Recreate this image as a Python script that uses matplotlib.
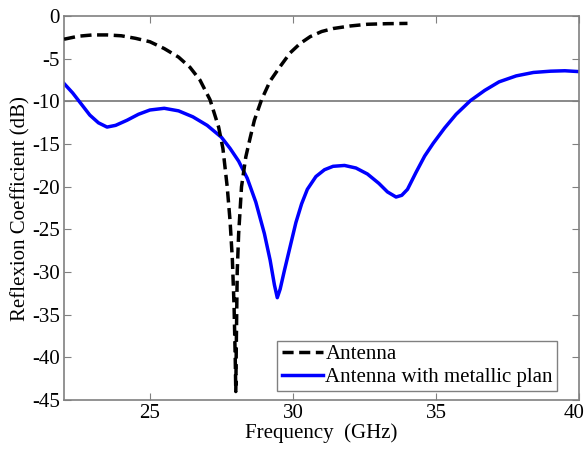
import matplotlib
matplotlib.use('Agg')
import matplotlib.pyplot as plt
import matplotlib.transforms as mtransforms

# Antenna alone (dashed)
freq_ant = [22.0, 22.5, 23.0, 23.5, 24.0, 24.5, 25.0, 25.5, 26.0, 26.4, 26.75,
            27.1, 27.4, 27.55, 27.7, 27.8, 27.88, 27.94, 27.98, 28.0, 28.02,
            28.05, 28.1, 28.2, 28.35, 28.5, 28.65, 28.9, 29.2, 29.55, 29.9,
            30.25, 30.6, 31.0, 31.4, 32.0, 32.6, 33.3, 34.0]
s11_ant = [-2.7, -2.35, -2.2, -2.2, -2.3, -2.6, -3.0, -3.8, -4.8, -6.0, -7.5,
           -9.8, -13.0, -15.5, -20.0, -24.0, -28.5, -34.0, -40.0, -44.0, -38.0,
           -30.0, -25.5, -20.0, -16.5, -14.3, -12.2, -9.8, -7.6, -5.9, -4.3,
           -3.2, -2.4, -1.8, -1.45, -1.15, -0.95, -0.88, -0.85]

# Antenna with metallic plan (solid blue)
freq_mp = [22.0, 22.3, 22.6, 22.9, 23.2, 23.5, 23.8, 24.2, 24.6, 25.0, 25.5,
           26.0, 26.5, 27.0, 27.5, 27.8, 28.1, 28.4, 28.7, 29.0, 29.2, 29.35,
           29.45, 29.55, 29.7, 29.9, 30.1, 30.3, 30.5, 30.8, 31.1, 31.4, 31.8,
           32.2, 32.6, 33.0, 33.3, 33.6, 33.8, 34.0, 34.3, 34.6, 34.9, 35.3,
           35.7, 36.2, 36.7, 37.2, 37.8, 38.4, 39.0, 39.5, 40.0]
s11_mp = [-7.9, -9.0, -10.3, -11.6, -12.5, -13.0, -12.8, -12.2, -11.5, -11.0, -10.8,
          -11.1, -11.8, -12.8, -14.2, -15.5, -17.0, -19.0, -21.8, -25.5, -28.6, -31.5,
          -33.0, -32.0, -29.8, -27.0, -24.2, -22.0, -20.3, -18.8, -18.0, -17.6, -17.5,
          -17.8, -18.5, -19.6, -20.6, -21.2, -21.0, -20.3, -18.3, -16.4, -14.9, -13.1,
          -11.5, -9.9, -8.7, -7.7, -7.0, -6.6, -6.45, -6.4, -6.5]

plt.rcParams['font.family'] = ['Liberation Serif', 'DejaVu Serif']
plt.rcParams['font.size'] = 15
plt.rcParams['axes.unicode_minus'] = False

fig = plt.figure(figsize=(5.88, 4.49), dpi=100)
ax = fig.add_axes([0.109, 0.109, 0.876, 0.855])

ax.axhline(-10, color='#808080', lw=1.3, zorder=1)
ax.plot(freq_ant, s11_ant, color='black', lw=2.5, ls=(0, (3.2, 1.6)), label='Antenna', zorder=3)
ax.plot(freq_mp, s11_mp, color='#0000ff', lw=2.5, label='Antenna with metallic plan', zorder=2)

ax.set_xlim(22, 40)
ax.set_ylim(-45, 0)
ax.set_xticks([25, 30, 35, 40])
ax.set_yticks(range(-45, 1, 5))
ax.tick_params(direction='in', top=True, right=True, length=5, color='#808080',
               labelsize=15, pad=3)
for s in ax.spines.values():
    s.set_color('#808080')
    s.set_linewidth(1.2)

# keep the "40" label inside the canvas, as in the original
last = ax.get_xticklabels()[-1]
last.set_transform(last.get_transform() +
                   mtransforms.ScaledTranslation(-4 / 72, 0, fig.dpi_scale_trans))

ax.set_xlabel('Frequency  (GHz)', fontsize=15, labelpad=0)
ax.set_ylabel('Reflexion Coefficient (dB)', fontsize=15, labelpad=1)

leg = ax.legend(loc='lower right', bbox_to_anchor=(0.957, 0.023), borderaxespad=0,
                fancybox=False, edgecolor='#808080', framealpha=1, fontsize=15,
                handlelength=2.0, handletextpad=0.1, borderpad=0.2, labelspacing=0.15)
leg.get_frame().set_linewidth(1.0)

fig.savefig('out.png', dpi=100)
